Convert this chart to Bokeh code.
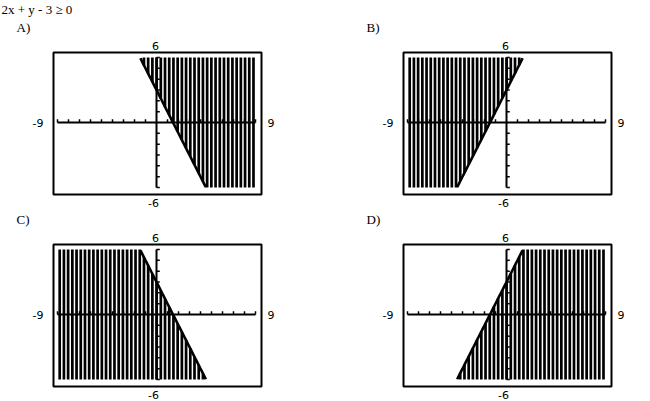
import numpy as np
from bokeh.plotting import figure
from bokeh.models import Range1d
from bokeh.core.properties import value
from bokeh.embed import file_html
from bokeh.resources import INLINE

# ---- data ----
title = "2x + y - 3 ≥ 0"
panel_labels = ["A)", "B)", "C)", "D)"]
slopes = [-2, 2, -2, 2]
intercepts = [3, 3, 3, 3]
shade_sides = ["above", "above", "below", "below"]
x_window = [-9, 9]
y_window = [-6, 6]
x_tick_values = list(range(-9, 10))
y_tick_values = list(range(-6, 7))
window_labels = ["6", "-9", "9", "-6"]  # top, left, right, bottom

# ---- layout (page pixels) ----
W, H = 650, 401
PW, PH = 198, 130
origins = [(57, 57), (407, 57), (57, 249), (407, 249)]
label_pos = [(16, 27), (366, 27), (16, 219), (366, 219)]

p = figure(width=W, height=H, x_range=Range1d(0, W), y_range=Range1d(H, 0),
           output_backend="svg", toolbar_location=None, min_border=0,
           x_axis_location=None, y_axis_location=None,
           outline_line_color=None)
p.grid.visible = False
p.background_fill_color = "white"
p.border_fill_color = "white"

sans = value("DejaVu Sans")
serif = value("Liberation Serif")

p.text(x=[1], y=[9], text=[title], text_font=serif, text_font_size="13px",
       text_baseline="middle", text_align="left", text_color="black")

n_cols = 47
step = (x_window[1] - x_window[0]) / n_cols
xs = x_window[0] + 0.2 + step * np.arange(n_cols)

for i in range(4):
    x0, y0 = origins[i]
    s = p.subplot(x_source=Range1d(*x_window), y_source=Range1d(*y_window),
                  x_target=Range1d(x0, x0 + PW), y_target=Range1d(y0 + PH, y0))
    m, b = slopes[i], intercepts[i]
    yl = m * xs + b
    if shade_sides[i] == "above":
        lo = np.maximum(y_window[0], yl)
        hi = np.full_like(xs, y_window[1])
    else:
        lo = np.full_like(xs, y_window[0])
        hi = np.minimum(y_window[1], yl)
    keep = lo < hi
    s.segment(x0=xs[keep], y0=lo[keep], x1=xs[keep], y1=hi[keep],
              line_color="black", line_width=2.7, line_cap="butt")

    # axes
    s.segment(x0=[x_window[0], 0], y0=[0, y_window[0]], x1=[x_window[1], 0], y1=[0, y_window[1]],
              line_color="black", line_width=2)
    xt = np.array([t for t in x_tick_values if t != 0], dtype=float)
    s.segment(x0=xt, y0=np.zeros_like(xt), x1=xt, y1=np.full_like(xt, 0.3),
              line_color="black", line_width=1.5)
    yt = np.array([t for t in y_tick_values if t != 0], dtype=float)
    s.segment(x0=np.zeros_like(yt), y0=yt, x1=np.full_like(yt, 0.3), y1=yt,
              line_color="black", line_width=1.5)

    # boundary line
    xx = np.linspace(x_window[0], x_window[1], 400)
    yy = m * xx + b
    mask = (yy >= y_window[0]) & (yy <= y_window[1])
    s.line(xx[mask], yy[mask], line_color="black", line_width=2.6)

    # frame
    p.quad(left=[x0 - 4], right=[x0 + PW + 6], top=[y0 - 5], bottom=[y0 + PH + 7],
           fill_color=None, line_color="black", line_width=2)

    # window labels
    cx = x0 + PW / 2 - 1
    cy = y0 + PH / 2
    p.text(x=[cx], y=[y0 - 12], text=[window_labels[0]], text_font=sans,
           text_font_size="11px", text_align="center", text_baseline="middle")
    p.text(x=[x0 - 14], y=[cy], text=[window_labels[1]], text_font=sans,
           text_font_size="11px", text_align="right", text_baseline="middle")
    p.text(x=[x0 + PW + 12], y=[cy], text=[window_labels[2]], text_font=sans,
           text_font_size="11px", text_align="left", text_baseline="middle")
    p.text(x=[cx - 2], y=[y0 + PH + 15], text=[window_labels[3]], text_font=sans,
           text_font_size="11px", text_align="center", text_baseline="middle")

    lx, ly = label_pos[i]
    p.text(x=[lx], y=[ly], text=[panel_labels[i]], text_font=serif,
           text_font_size="13px", text_align="left", text_baseline="middle")

open("out.html", "w").write(file_html(p, INLINE))
